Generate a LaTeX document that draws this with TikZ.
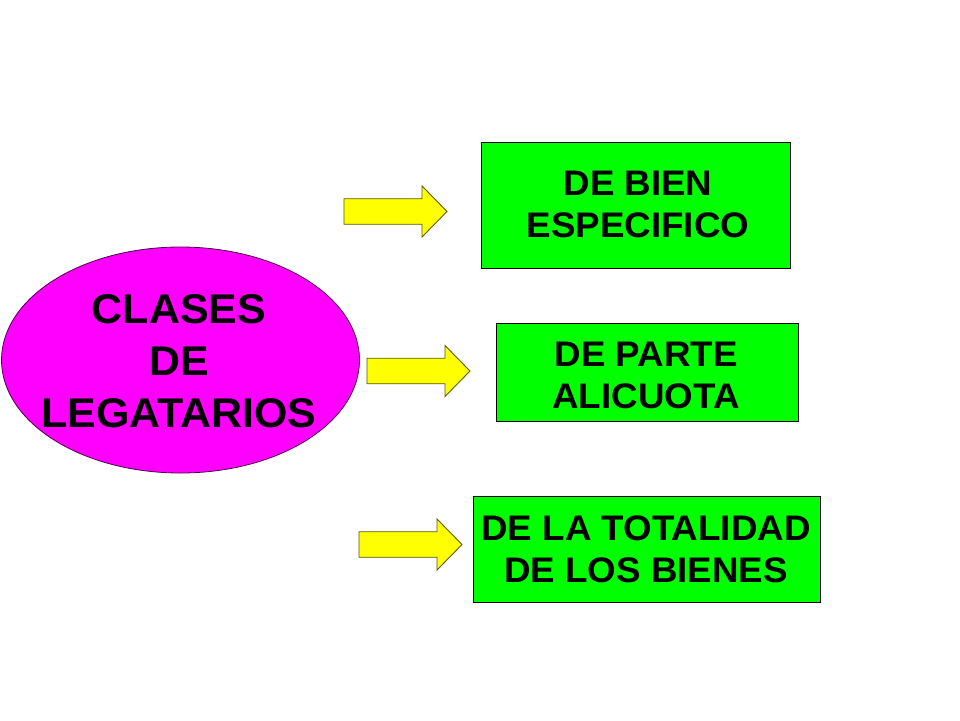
\documentclass[tikz,border=0pt]{standalone}
\usepackage{fontspec}
\setmainfont[FakeStretch=1.035]{Liberation Sans}
\usetikzlibrary{shapes.geometric}
\definecolor{magentafill}{HTML}{FF00FF}
\definecolor{greenfill}{HTML}{00FF00}
\definecolor{yellowfill}{HTML}{FFFF00}
\definecolor{arrowline}{HTML}{5A5A00}
\definecolor{ellline}{HTML}{4A004A}
\tikzset{
  greenbox/.style={draw=black, line width=1pt, fill=greenfill},
  boxtext/.style={align=center, inner sep=0pt, font=\fontsize{35.5}{42}\selectfont\bfseries},
  ovaltext/.style={align=center, inner sep=0pt, font=\fontsize{41.5}{52}\selectfont\bfseries},
  arrowstyle/.style={draw=arrowline, line width=0.9pt, fill=yellowfill, line join=miter},
  blockarrow/.pic={\draw[arrowstyle] (0,-12.75) -- (78,-12.75) -- (78,-25.5) -- (103,0) -- (78,25.5) -- (78,12.75) -- (0,12.75) -- cycle;}
}
\begin{document}
\begin{tikzpicture}[x=1pt,y=-1pt]
\useasboundingbox[fill=white] (0,0) rectangle (960,720);
% ellipse
\node[ellipse, draw=ellline, line width=0.8pt, fill=magentafill, minimum width=358pt, minimum height=226pt, inner sep=0pt] (oval) at (180.5,360) {};
\node[ovaltext] (ovaltxt) at (179,361) {CLASES\\DE\\LEGATARIOS};
% boxes
\draw[greenbox] (481,142) rectangle (790,268);
\node[boxtext] (b1) at (638,204.5) {DE BIEN\\ESPECIFICO};
\draw[greenbox] (496,323) rectangle (798,421);
\node[boxtext] (b2) at (646,375) {DE PARTE\\ALICUOTA};
\draw[greenbox] (473,496) rectangle (820,602);
\node[boxtext] (b3) at (646,549) {DE LA TOTALIDAD\\DE LOS BIENES};
% arrows
\pic at (344,211.5) {blockarrow};
\pic at (367,371) {blockarrow};
\pic at (359,544.5) {blockarrow};
\end{tikzpicture}
\end{document}
